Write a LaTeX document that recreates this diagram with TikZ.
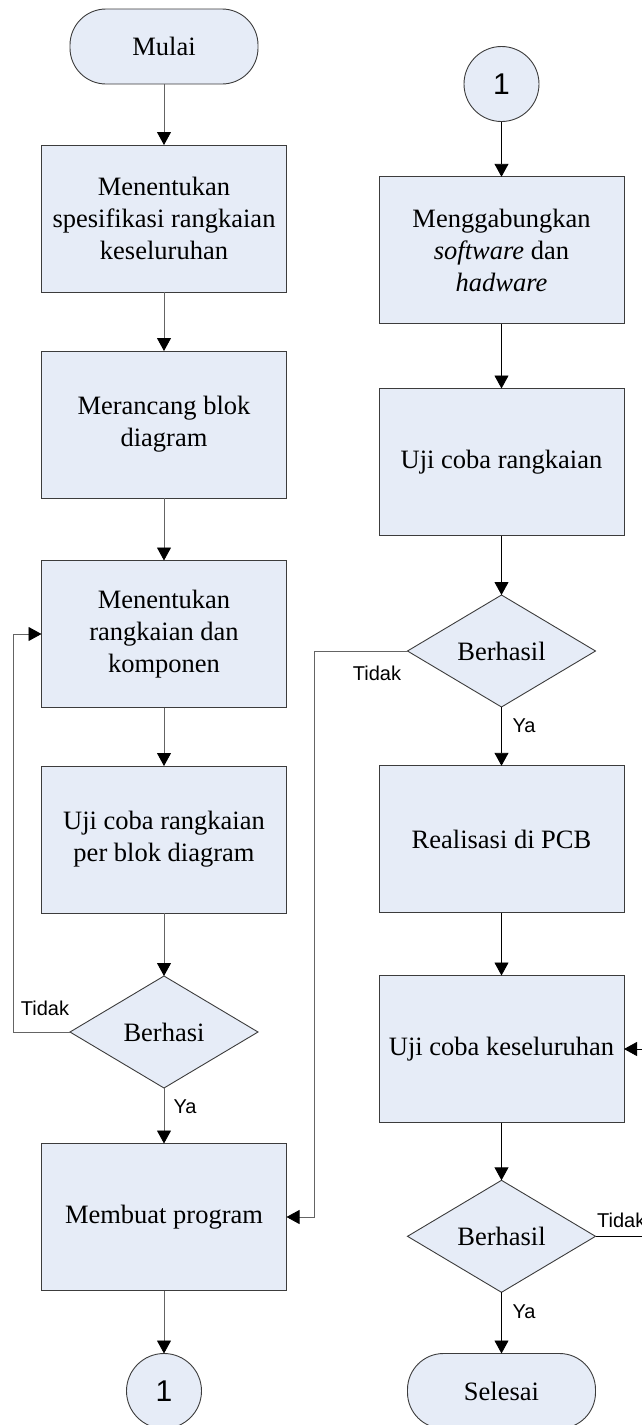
\documentclass[tikz,border=0pt]{standalone}
\usepackage{fontspec}
\setmainfont{Liberation Serif}
\newfontfamily\labelfont{Liberation Sans}
\usetikzlibrary{shapes.geometric,arrows.meta}

\definecolor{boxfill}{RGB}{230,236,247}
\definecolor{boxline}{RGB}{60,60,60}
\definecolor{flowgray}{RGB}{100,100,100}

\tikzset{
  base/.style={draw=boxline, line width=0.9pt, fill=boxfill, align=center,
    font=\fontsize{26.5}{31.7}\selectfont, inner sep=1pt, outer sep=0pt},
  process/.style={base, rectangle, minimum width=245pt, minimum height=147pt},
  terminal/.style={base, rectangle, rounded corners=36pt, minimum width=188pt, minimum height=75pt},
  decision/.style={base, diamond, minimum width=188pt, minimum height=112pt, inner sep=0pt},
  connector/.style={base, circle, minimum size=75pt, font=\labelfont\fontsize{30}{36}\selectfont},
  flow/.style={line width=0.9pt, -{Triangle[length=13pt, width=14pt, color=black]}},
  flowL/.style={flow, draw=flowgray},
  answer/.style={font=\labelfont\fontsize{20}{24}\selectfont, inner sep=0pt}
}

\begin{document}
\begin{tikzpicture}[x=1pt, y=-1pt]
\clip (0, 0) rectangle (642, 1425);

% left column
\node (mulai) at (164, 46.5) [terminal] {Mulai};
\node (spek) at (164, 218.5) [process] {Menentukan\\spesifikasi rangkaian\\keseluruhan};
\node (blok) at (164, 424.5) [process] {Merancang blok\\diagram};
\node (komp) at (164, 634) [process] {Menentukan\\rangkaian dan\\komponen};
\node (ujiblok) at (164, 839.5) [process] {Uji coba rangkaian\\per blok diagram};
\node (cek1) at (164, 1032) [decision] {Berhasi};
\node (prog) at (164, 1217) [process] {Membuat program};
\node (keluar) at (164, 1391) [connector] {1};

% right column
\node (masuk) at (501.5, 84) [connector] {1};
\node (gabung) at (501.5, 250.3) [process] {Menggabungkan\\\textit{software} dan\\\textit{hadware}};
\node (ujirang) at (501.5, 462) [process] {Uji coba rangkaian};
\node (cek2) at (501.5, 651) [decision] {Berhasil};
\node (pcb) at (501.5, 839.3) [process] {Realisasi di PCB};
\node (ujiall) at (501.5, 1049) [process] {Uji coba keseluruhan};
\node (cek3) at (501.5, 1236.3) [decision] {Berhasil};
\node (selesai) at (501.5, 1391) [terminal] {Selesai};

% labels
\node (tidak1) at (45, 1008) [answer] {Tidak};
\node (ya1) at (185, 1107) [answer] {Ya};
\node (tidak2) at (377, 673) [answer] {Tidak};
\node (ya2) at (524, 726) [answer] {Ya};
\node (tidak3) at (597, 1220) [answer, anchor=west] {Tidak};
\node (ya3) at (524, 1312) [answer] {Ya};

\draw [flowL] (mulai) -- (spek);
\draw [flowL] (spek) -- (blok);
\draw [flowL] (blok) -- (komp);
\draw [flowL] (komp) -- (ujiblok);
\draw [flowL] (ujiblok) -- (cek1);
\draw [flowL] (cek1) -- (prog);
\draw [flowL] (prog) -- (keluar);
\draw [flowL] (cek1.west) -- ++(-57, 0) |- (komp.west);

\draw [flow] (masuk) -- (gabung);
\draw [flow] (gabung) -- (ujirang);
\draw [flow] (ujirang) -- (cek2);
\draw [flow] (cek2) -- (pcb);
\draw [flow] (pcb) -- (ujiall);
\draw [flow] (ujiall) -- (cek3);
\draw [flow] (cek3) -- (selesai);
\draw [flowL] (cek2.west) -- ++(-93.5, 0) |- (prog.east);
\draw [flow] (cek3.east) -- ++(54, 0) |- (ujiall.east);
\end{tikzpicture}
\end{document}
